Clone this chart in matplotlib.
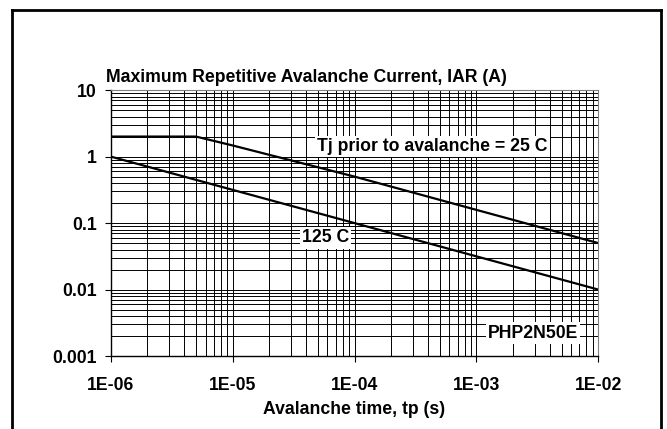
"""
Max repetitive avalanche current vs avalanche time (PHP2N50E)
"""
import matplotlib
matplotlib.use('Agg')
import matplotlib.pyplot as plt
from matplotlib.lines import Line2D
from matplotlib.ticker import LogLocator, NullFormatter, FixedLocator

plt.rcParams['font.family'] = ['Liberation Sans', 'DejaVu Sans']
plt.rcParams['font.weight'] = 'bold'

# data doc tu hinh
t_25c = [1e-6, 5e-6, 1e-5, 1e-4, 1e-3, 1e-2]
iar_25c = [2.0, 2.0, 1.47, 0.50, 0.158, 0.05]
t_125c = [1e-6, 1e-5, 1e-4, 1e-3, 1e-2]
iar_125c = [1.0, 0.316, 0.1, 0.0316, 0.01]

x_ticks = [1e-6, 1e-5, 1e-4, 1e-3, 1e-2]
x_labels = ['1E-06', '1E-05', '1E-04', '1E-03', '1E-02']
y_ticks = [0.001, 0.01, 0.1, 1, 10]
y_labels = ['0.001', '0.01', '0.1', '1', '10']

FS = 12.7

fig = plt.figure(figsize=(6.67, 4.29), dpi=100)
ax = fig.add_axes([0.166, 0.170, 0.731, 0.620])

ax.plot(t_25c, iar_25c, color='black', linewidth=1.6)
ax.plot(t_125c, iar_125c, color='black', linewidth=1.6)

ax.set_xscale('log')
ax.set_yscale('log')
ax.set_xlim(1e-6, 1e-2)
ax.set_ylim(1e-3, 10)

ax.xaxis.set_major_locator(FixedLocator(x_ticks))
ax.yaxis.set_major_locator(FixedLocator(y_ticks))
ax.set_xticklabels(x_labels)
ax.set_yticklabels(y_labels)
ax.xaxis.set_minor_locator(LogLocator(base=10, subs=range(2, 10), numticks=20))
ax.yaxis.set_minor_locator(LogLocator(base=10, subs=range(2, 10), numticks=20))
ax.xaxis.set_minor_formatter(NullFormatter())
ax.yaxis.set_minor_formatter(NullFormatter())

ax.grid(True, which='both', color='black', linewidth=0.7)
ax.tick_params(which='major', direction='out', length=4, width=0.8,
               labelsize=FS, pad=6)
ax.tick_params(which='minor', length=0)
ax.tick_params(axis='x', pad=11)
for side in ['top', 'right']:
    ax.spines[side].set_color('#808080')
for side in ['left', 'bottom']:
    ax.spines[side].set_linewidth(1.0)

ax.set_xlabel('Avalanche time, tp (s)', fontsize=FS, fontweight='bold', labelpad=5)
fig.text(0.159, 0.809, 'Maximum Repetitive Avalanche Current, IAR (A)',
         fontsize=FS, fontweight='bold', ha='left', va='baseline')

box = dict(facecolor='white', edgecolor='none', pad=1.5)
ax.text(0.660, 0.789, 'Tj prior to avalanche = 25 C', transform=ax.transAxes,
        fontsize=FS, fontweight='bold', ha='center', va='center', bbox=box)
ax.text(0.441, 0.444, '125 C', transform=ax.transAxes,
        fontsize=FS, fontweight='bold', ha='center', va='center', bbox=box)
ax.text(0.866, 0.0865, 'PHP2N50E', transform=ax.transAxes,
        fontsize=FS, fontweight='bold', ha='center', va='center', bbox=box)

# khung ngoai (khong co canh duoi)
x0, x1 = 12 / 667, 661 / 667
y_top = 1 - 9.5 / 429
for xs, ys in [([x0, x0], [0, y_top]), ([x0, x1], [y_top, y_top]), ([x1, x1], [y_top, 0])]:
    fig.add_artist(Line2D(xs, ys, color='black', linewidth=2.0, transform=fig.transFigure))

fig.savefig('out.png', dpi=100)
